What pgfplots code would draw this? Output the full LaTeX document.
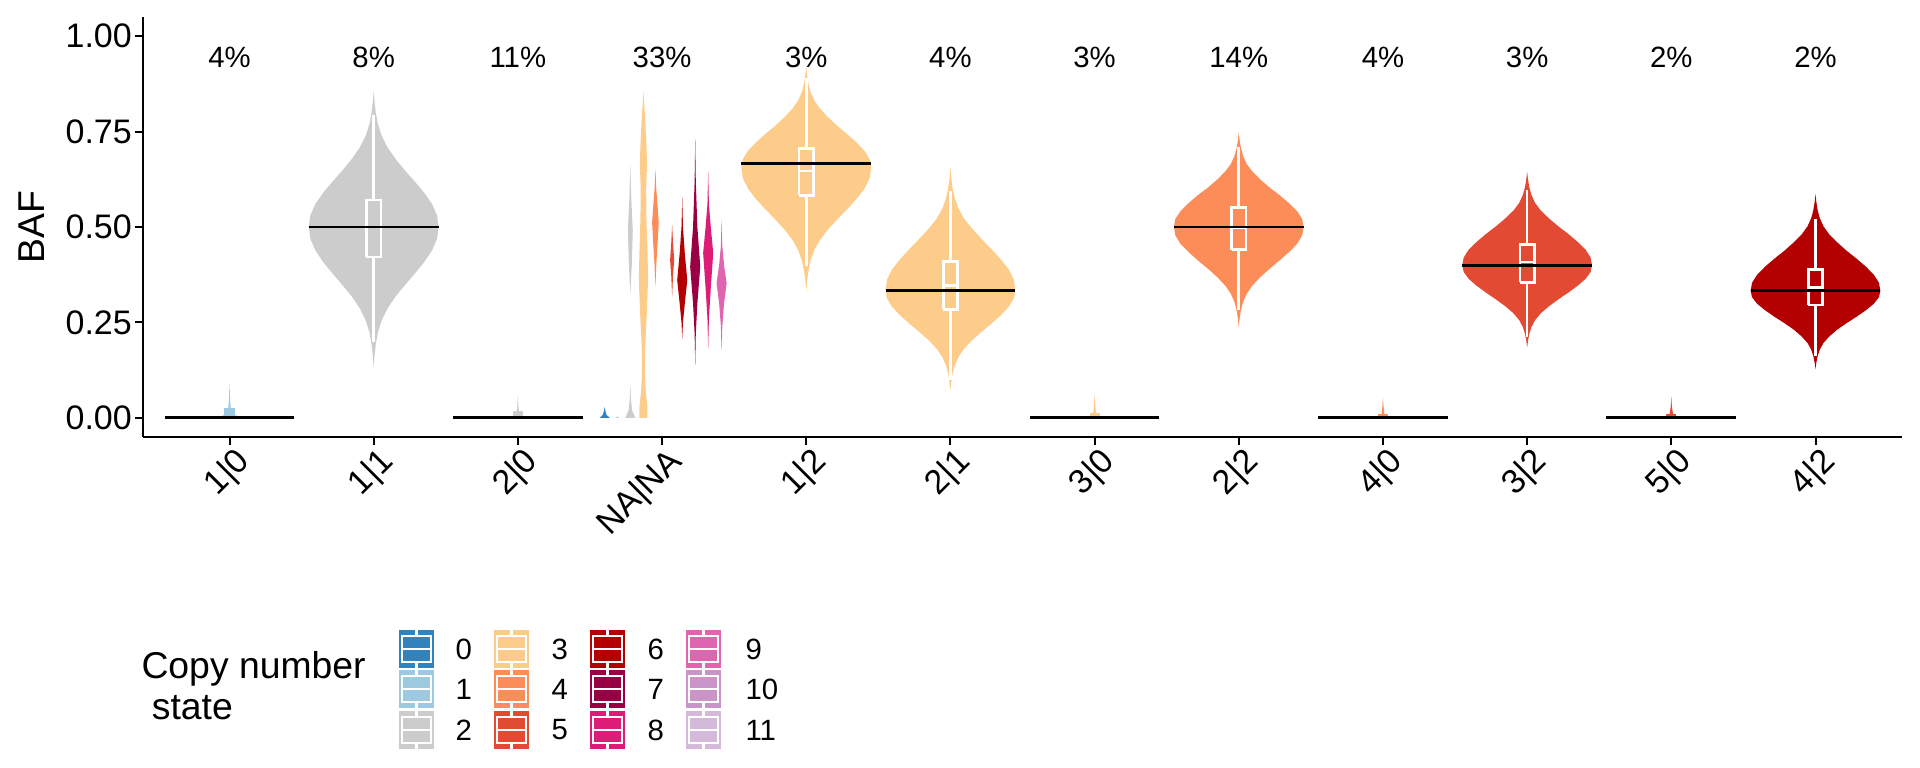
\documentclass[border=0pt]{standalone}
\usepackage{fontspec}
\setmainfont{Liberation Sans}
\usepackage{pgfplots}
\pgfplotsset{compat=1.18}
\definecolor{c0}{HTML}{3182BD}
\definecolor{c1}{HTML}{9ECAE1}
\definecolor{c2}{HTML}{CCCCCC}
\definecolor{c3}{HTML}{FDCC8A}
\definecolor{c4}{HTML}{FC8D59}
\definecolor{c5}{HTML}{E34A33}
\definecolor{c6}{HTML}{B30000}
\definecolor{c7}{HTML}{980043}
\definecolor{c8}{HTML}{DD1C77}
\definecolor{c9}{HTML}{DF65B0}
\definecolor{c10}{HTML}{C994C7}
\definecolor{c11}{HTML}{D4B9DA}
\newcommand{\txt}{\fontsize{11}{13}\selectfont}
\newcommand{\ticktxt}{\fontsize{12.75}{15}\selectfont}
\newcommand{\titletxt}{\fontsize{14}{16}\selectfont}
% legend key in pixel units (y downwards)
\newcommand{\legkey}[3]{%
  \fill[#3] (#1,#2) rectangle ++(35,38);
  \draw[white, line width=0.8pt] (#1+3,#2+6) rectangle (#1+32,#2+32);
  \draw[white, line width=0.8pt] (#1+3,#2+19) -- (#1+32,#2+19);
  \draw[white, line width=0.8pt] (#1+17.5,#2) -- (#1+17.5,#2+6);
  \draw[white, line width=0.8pt] (#1+17.5,#2+32) -- (#1+17.5,#2+38);
}
\begin{document}
\begin{tikzpicture}
\useasboundingbox (-53.625pt,-124.125pt) rectangle (666.375pt,163.875pt);
\begin{axis}[
  scale only axis, width=659.625pt, height=157.5pt,
  xmin=0.4, xmax=12.6, ymin=-0.05, ymax=1.05,
  axis x line*=bottom, axis y line*=left,
  axis line style={line width=0.75pt, -},
  tick align=outside, major tick length=3pt,
  major tick style={black, line width=0.75pt},
  xtick={1,2,3,4,5,6,7,8,9,10,11,12},
  xticklabels={1|0,1|1,2|0,NA|NA,1|2,2|1,3|0,2|2,4|0,3|2,5|0,4|2},
  ytick={0,0.25,0.5,0.75,1},
  yticklabels={0.00,0.25,0.50,0.75,1.00},
  tick label style={font=\ticktxt},
  xticklabel style={rotate=45, anchor=north east, inner sep=1pt, xshift=2pt},
  yticklabel style={inner sep=1pt},
  /pgf/number format/assume math mode=true,
  ylabel={BAF},
  every axis y label/.style={at={(rel axis cs:-0.0631,0.5)}, rotate=90, anchor=center, font=\titletxt},
  clip=false,
  unbounded coords=jump,
]
% ---- violins ----
% 1|0
\addplot[fill=c1, draw=none] coordinates {(1.000,0.090) (1.004,0.050) (1.010,0.015) (1.050,0.005) (1.130,0.000) (0.870,0.000) (0.950,0.005) (0.990,0.015) (0.996,0.050)};
\addplot[fill=c1, draw=none] coordinates {(0.965,0.003) (1.035,0.003) (1.035,0.027) (0.965,0.027)};
% 1|1
\addplot[fill=c2, draw=none] coordinates {(2.000,0.858) (2.006,0.828) (2.015,0.798) (2.030,0.769) (2.055,0.739) (2.095,0.709) (2.150,0.679) (2.215,0.649) (2.285,0.619) (2.350,0.590) (2.405,0.560) (2.440,0.530) (2.450,0.500) (2.440,0.470) (2.405,0.439) (2.350,0.408) (2.285,0.378) (2.215,0.347) (2.150,0.317) (2.095,0.286) (2.055,0.255) (2.030,0.225) (2.015,0.194) (2.006,0.163) (2.000,0.133) (1.994,0.163) (1.985,0.194) (1.970,0.225) (1.945,0.255) (1.905,0.286) (1.850,0.317) (1.785,0.347) (1.715,0.378) (1.650,0.408) (1.595,0.439) (1.560,0.470) (1.550,0.500) (1.560,0.530) (1.595,0.560) (1.650,0.590) (1.715,0.619) (1.785,0.649) (1.850,0.679) (1.905,0.709) (1.945,0.739) (1.970,0.769) (1.985,0.798) (1.994,0.828)};
% 2|0
\addplot[fill=c2, draw=none] coordinates {(3.000,0.060) (3.004,0.030) (3.010,0.010) (3.040,0.003) (3.060,0.000) (2.940,0.000) (2.960,0.003) (2.990,0.010) (2.996,0.030)};
\addplot[fill=c2, draw=none] coordinates {(2.965,0.003) (3.035,0.003) (3.035,0.017) (2.965,0.017)};
% NA|NA dodged violins
\addplot[fill=c0, draw=none] coordinates {(3.602,0.029) (3.607,0.018) (3.615,0.008) (3.637,0.000) (3.567,0.000) (3.589,0.008) (3.597,0.018)};
\addplot[fill=c1, draw=none] coordinates {(3.690,0.004) (3.700,0.000) (3.680,0.000)};
\addplot[fill=c2, draw=none] coordinates {(3.780,0.089) (3.784,0.050) (3.792,0.020) (3.815,0.000) (3.745,0.000) (3.768,0.020) (3.776,0.050)};
\addplot[fill=c2, draw=none] coordinates {(3.780,0.665) (3.786,0.580) (3.797,0.490) (3.790,0.400) (3.780,0.326) (3.770,0.400) (3.763,0.490) (3.774,0.580)};
\addplot[fill=c3, draw=none] coordinates {(3.871,0.854) (3.880,0.801) (3.890,0.731) (3.896,0.669) (3.890,0.599) (3.892,0.520) (3.899,0.432) (3.903,0.361) (3.894,0.273) (3.883,0.185) (3.880,0.124) (3.887,0.071) (3.899,0.027) (3.899,0.000) (3.843,0.000) (3.843,0.027) (3.855,0.071) (3.862,0.124) (3.859,0.185) (3.848,0.273) (3.839,0.361) (3.843,0.432) (3.850,0.520) (3.852,0.599) (3.846,0.669) (3.852,0.731) (3.862,0.801)};
\addplot[fill=c4, draw=none] coordinates {(3.954,0.652) (3.960,0.600) (3.970,0.550) (3.977,0.511) (3.968,0.450) (3.960,0.400) (3.954,0.343) (3.948,0.400) (3.940,0.450) (3.931,0.511) (3.938,0.550) (3.948,0.600)};
\addplot[fill=c5, draw=none] coordinates {(4.070,0.507) (4.076,0.460) (4.084,0.414) (4.076,0.370) (4.070,0.317) (4.064,0.370) (4.056,0.414) (4.064,0.460)};
\addplot[fill=c6, draw=none] coordinates {(4.140,0.577) (4.145,0.500) (4.158,0.430) (4.175,0.361) (4.158,0.300) (4.145,0.250) (4.140,0.208) (4.135,0.250) (4.122,0.300) (4.105,0.361) (4.122,0.430) (4.135,0.500)};
\addplot[fill=c7, draw=none] coordinates {(4.230,0.731) (4.234,0.620) (4.245,0.500) (4.265,0.396) (4.245,0.300) (4.234,0.220) (4.230,0.137) (4.226,0.220) (4.215,0.300) (4.195,0.396) (4.215,0.500) (4.226,0.620)};
\addplot[fill=c8, draw=none] coordinates {(4.320,0.647) (4.325,0.560) (4.338,0.500) (4.355,0.432) (4.338,0.340) (4.325,0.260) (4.320,0.181) (4.315,0.260) (4.302,0.340) (4.285,0.432) (4.302,0.500) (4.315,0.560)};
\addplot[fill=c9, draw=none] coordinates {(4.413,0.520) (4.418,0.450) (4.430,0.400) (4.448,0.353) (4.430,0.300) (4.418,0.240) (4.413,0.172) (4.408,0.240) (4.396,0.300) (4.378,0.353) (4.396,0.400) (4.408,0.450)};
% 1|2
\addplot[fill=c3, draw=none] coordinates {(5.000,0.920) (5.006,0.898) (5.015,0.876) (5.030,0.854) (5.055,0.832) (5.095,0.810) (5.150,0.788) (5.215,0.765) (5.285,0.743) (5.350,0.721) (5.405,0.699) (5.440,0.677) (5.450,0.655) (5.440,0.628) (5.405,0.601) (5.350,0.574) (5.285,0.547) (5.215,0.520) (5.150,0.493) (5.095,0.466) (5.055,0.439) (5.030,0.412) (5.015,0.385) (5.006,0.358) (5.000,0.331) (4.994,0.358) (4.985,0.385) (4.970,0.412) (4.945,0.439) (4.905,0.466) (4.850,0.493) (4.785,0.520) (4.715,0.547) (4.650,0.574) (4.595,0.601) (4.560,0.628) (4.550,0.655) (4.560,0.677) (4.595,0.699) (4.650,0.721) (4.715,0.743) (4.785,0.765) (4.850,0.788) (4.905,0.810) (4.945,0.832) (4.970,0.854) (4.985,0.876) (4.994,0.898)};
% 2|1
\addplot[fill=c3, draw=none] coordinates {(6.000,0.656) (6.006,0.629) (6.015,0.602) (6.030,0.576) (6.055,0.549) (6.095,0.522) (6.150,0.496) (6.215,0.469) (6.285,0.442) (6.350,0.415) (6.405,0.389) (6.440,0.362) (6.450,0.335) (6.440,0.313) (6.405,0.291) (6.350,0.269) (6.285,0.247) (6.215,0.225) (6.150,0.203) (6.095,0.181) (6.055,0.159) (6.030,0.137) (6.015,0.115) (6.006,0.093) (6.000,0.071) (5.994,0.093) (5.985,0.115) (5.970,0.137) (5.945,0.159) (5.905,0.181) (5.850,0.203) (5.785,0.225) (5.715,0.247) (5.650,0.269) (5.595,0.291) (5.560,0.313) (5.550,0.335) (5.560,0.362) (5.595,0.389) (5.650,0.415) (5.715,0.442) (5.785,0.469) (5.850,0.496) (5.905,0.522) (5.945,0.549) (5.970,0.576) (5.985,0.602) (5.994,0.629)};
% 3|0
\addplot[fill=c3, draw=none] coordinates {(7.000,0.065) (7.004,0.035) (7.010,0.012) (7.030,0.003) (7.050,0.000) (6.950,0.000) (6.970,0.003) (6.990,0.012) (6.996,0.035)};
\addplot[fill=c3, draw=none] coordinates {(6.965,0.003) (7.035,0.003) (7.035,0.012) (6.965,0.012)};
% 2|2
\addplot[fill=c4, draw=none] coordinates {(8.000,0.748) (8.006,0.727) (8.015,0.707) (8.030,0.686) (8.055,0.665) (8.095,0.645) (8.150,0.624) (8.215,0.603) (8.285,0.583) (8.350,0.562) (8.405,0.541) (8.440,0.521) (8.450,0.500) (8.440,0.478) (8.405,0.456) (8.350,0.435) (8.285,0.413) (8.215,0.391) (8.150,0.369) (8.095,0.347) (8.055,0.325) (8.030,0.304) (8.015,0.282) (8.006,0.260) (8.000,0.238) (7.994,0.260) (7.985,0.282) (7.970,0.304) (7.945,0.325) (7.905,0.347) (7.850,0.369) (7.785,0.391) (7.715,0.413) (7.650,0.435) (7.595,0.456) (7.560,0.478) (7.550,0.500) (7.560,0.521) (7.595,0.541) (7.650,0.562) (7.715,0.583) (7.785,0.603) (7.850,0.624) (7.905,0.645) (7.945,0.665) (7.970,0.686) (7.985,0.707) (7.994,0.727)};
% 4|0
\addplot[fill=c4, draw=none] coordinates {(9.000,0.054) (9.004,0.030) (9.010,0.010) (9.030,0.003) (9.064,0.000) (8.936,0.000) (8.970,0.003) (8.990,0.010) (8.996,0.030)};
\addplot[fill=c4, draw=none] coordinates {(8.965,0.003) (9.035,0.003) (9.035,0.011) (8.965,0.011)};
% 3|2
\addplot[fill=c5, draw=none] coordinates {(10.000,0.645) (10.006,0.625) (10.015,0.604) (10.030,0.584) (10.055,0.563) (10.095,0.543) (10.150,0.523) (10.215,0.502) (10.285,0.482) (10.350,0.461) (10.405,0.441) (10.440,0.420) (10.450,0.400) (10.440,0.382) (10.405,0.364) (10.350,0.346) (10.285,0.328) (10.215,0.310) (10.150,0.292) (10.095,0.274) (10.055,0.256) (10.030,0.238) (10.015,0.220) (10.006,0.202) (10.000,0.184) (9.994,0.202) (9.985,0.220) (9.970,0.238) (9.945,0.256) (9.905,0.274) (9.850,0.292) (9.785,0.310) (9.715,0.328) (9.650,0.346) (9.595,0.364) (9.560,0.382) (9.550,0.400) (9.560,0.420) (9.595,0.441) (9.650,0.461) (9.715,0.482) (9.785,0.502) (9.850,0.523) (9.905,0.543) (9.945,0.563) (9.970,0.584) (9.985,0.604) (9.994,0.625)};
% 5|0
\addplot[fill=c5, draw=none] coordinates {(11.000,0.057) (11.004,0.030) (11.012,0.010) (11.040,0.003) (11.110,0.000) (10.890,0.000) (10.960,0.003) (10.988,0.010) (10.996,0.030)};
\addplot[fill=c5, draw=none] coordinates {(10.965,0.003) (11.035,0.003) (11.035,0.011) (10.965,0.011)};
% 4|2
\addplot[fill=c6, draw=none] coordinates {(12.000,0.586) (12.006,0.565) (12.015,0.544) (12.030,0.523) (12.055,0.502) (12.095,0.481) (12.150,0.460) (12.215,0.438) (12.285,0.417) (12.350,0.396) (12.405,0.375) (12.440,0.354) (12.450,0.333) (12.440,0.316) (12.405,0.299) (12.350,0.282) (12.285,0.265) (12.215,0.248) (12.150,0.231) (12.095,0.213) (12.055,0.196) (12.030,0.179) (12.015,0.162) (12.006,0.145) (12.000,0.128) (11.994,0.145) (11.985,0.162) (11.970,0.179) (11.945,0.196) (11.905,0.213) (11.850,0.231) (11.785,0.248) (11.715,0.265) (11.650,0.282) (11.595,0.299) (11.560,0.316) (11.550,0.333) (11.560,0.354) (11.595,0.375) (11.650,0.396) (11.715,0.417) (11.785,0.438) (11.850,0.460) (11.905,0.481) (11.945,0.502) (11.970,0.523) (11.985,0.544) (11.994,0.565)};
% ---- boxplots (box, median, whiskers) ----
\pgfplotsset{wbox/.style={white, line width=1pt, mark=none}}
\addplot[wbox] coordinates {(1.95,0.421) (2.05,0.421) (2.05,0.571) (1.95,0.571) (1.95,0.421) (nan,nan) (1.95,0.500) (2.05,0.500) (nan,nan) (2,0.571) (2,0.792) (nan,nan) (2,0.421) (2,0.199)};
\addplot[wbox] coordinates {(4.95,0.583) (5.05,0.583) (5.05,0.706) (4.95,0.706) (4.95,0.583) (nan,nan) (4.95,0.647) (5.05,0.647) (nan,nan) (5,0.706) (5,0.889) (nan,nan) (5,0.583) (5,0.398)};
\addplot[wbox] coordinates {(5.95,0.284) (6.05,0.284) (6.05,0.410) (5.95,0.410) (5.95,0.284) (nan,nan) (5.95,0.347) (6.05,0.347) (nan,nan) (6,0.410) (6,0.594) (nan,nan) (6,0.284) (6,0.098)};
\addplot[wbox] coordinates {(7.95,0.441) (8.05,0.441) (8.05,0.551) (7.95,0.551) (7.95,0.441) (nan,nan) (7.95,0.498) (8.05,0.498) (nan,nan) (8,0.551) (8,0.709) (nan,nan) (8,0.441) (8,0.282)};
\addplot[wbox] coordinates {(9.95,0.355) (10.05,0.355) (10.05,0.454) (9.95,0.454) (9.95,0.355) (nan,nan) (9.95,0.408) (10.05,0.408) (nan,nan) (10,0.454) (10,0.597) (nan,nan) (10,0.355) (10,0.212)};
\addplot[wbox] coordinates {(11.95,0.296) (12.05,0.296) (12.05,0.388) (11.95,0.388) (11.95,0.296) (nan,nan) (11.95,0.342) (12.05,0.342) (nan,nan) (12,0.388) (12,0.520) (nan,nan) (12,0.296) (12,0.163)};
% ---- expected BAF lines ----
\pgfplotsset{eline/.style={black, line width=1.1pt, mark=none}}
\addplot[eline] coordinates {(0.55,0) (1.45,0)};
\addplot[eline] coordinates {(1.55,0.5) (2.45,0.5)};
\addplot[eline] coordinates {(2.55,0) (3.45,0)};
\addplot[eline] coordinates {(4.55,0.6667) (5.45,0.6667)};
\addplot[eline] coordinates {(5.55,0.3333) (6.45,0.3333)};
\addplot[eline] coordinates {(6.55,0) (7.45,0)};
\addplot[eline] coordinates {(7.55,0.5) (8.45,0.5)};
\addplot[eline] coordinates {(8.55,0) (9.45,0)};
\addplot[eline] coordinates {(9.55,0.4) (10.45,0.4)};
\addplot[eline] coordinates {(10.55,0) (11.45,0)};
\addplot[eline] coordinates {(11.55,0.3333) (12.45,0.3333)};
% ---- percentages ----
\node[font=\txt] at (axis cs:1,0.945) {4\%};
\node[font=\txt] at (axis cs:2,0.945) {8\%};
\node[font=\txt] at (axis cs:3,0.945) {11\%};
\node[font=\txt] at (axis cs:4,0.945) {33\%};
\node[font=\txt] at (axis cs:5,0.945) {3\%};
\node[font=\txt] at (axis cs:6,0.945) {4\%};
\node[font=\txt] at (axis cs:7,0.945) {3\%};
\node[font=\txt] at (axis cs:8,0.945) {14\%};
\node[font=\txt] at (axis cs:9,0.945) {4\%};
\node[font=\txt] at (axis cs:10,0.945) {3\%};
\node[font=\txt] at (axis cs:11,0.945) {2\%};
\node[font=\txt] at (axis cs:12,0.945) {2\%};
\end{axis}
% ---- legend (pixel coordinates, y downwards) ----
\begin{scope}[x=0.375pt, y=-0.375pt, shift={(-53.625pt,163.875pt)}]
\node[font=\titletxt, anchor=west, inner sep=0pt] at (141,669) {Copy number};
\node[font=\titletxt, anchor=west, inner sep=0pt] at (141,708) {\ state};
\legkey{399}{630}{c0} \legkey{399}{670}{c1} \legkey{399}{711}{c2}
\legkey{494}{630}{c3} \legkey{494}{670}{c4} \legkey{494}{711}{c5}
\legkey{590}{630}{c6} \legkey{590}{670}{c7} \legkey{590}{711}{c8}
\legkey{686}{630}{c9} \legkey{686}{670}{c10} \legkey{686}{711}{c11}
\node[font=\txt, anchor=west, inner sep=0pt] at (455,649) {0};
\node[font=\txt, anchor=west, inner sep=0pt] at (455,689) {1};
\node[font=\txt, anchor=west, inner sep=0pt] at (455,730) {2};
\node[font=\txt, anchor=west, inner sep=0pt] at (551,649) {3};
\node[font=\txt, anchor=west, inner sep=0pt] at (551,689) {4};
\node[font=\txt, anchor=west, inner sep=0pt] at (551,730) {5};
\node[font=\txt, anchor=west, inner sep=0pt] at (647,649) {6};
\node[font=\txt, anchor=west, inner sep=0pt] at (647,689) {7};
\node[font=\txt, anchor=west, inner sep=0pt] at (647,730) {8};
\node[font=\txt, anchor=west, inner sep=0pt] at (745,649) {9};
\node[font=\txt, anchor=west, inner sep=0pt] at (745,689) {10};
\node[font=\txt, anchor=west, inner sep=0pt] at (745,730) {11};
\end{scope}
\end{tikzpicture}
\end{document}
